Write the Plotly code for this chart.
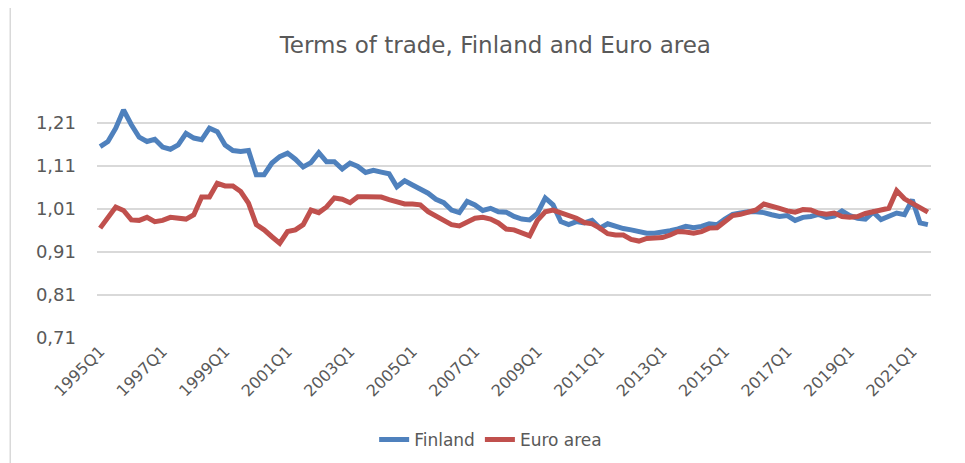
import plotly.graph_objects as go

quarters = [f"{y}Q{q}" for y in range(1995, 2022) for q in range(1, 5)][:107]

finland = [
    1.154, 1.166, 1.197, 1.239, 1.205, 1.176, 1.166, 1.171, 1.153, 1.148,
    1.158, 1.185, 1.174, 1.170, 1.197, 1.189, 1.158, 1.145, 1.143, 1.145,
    1.089, 1.089, 1.116, 1.131, 1.139, 1.125, 1.107, 1.117, 1.140, 1.119,
    1.119, 1.102, 1.116, 1.108, 1.094, 1.099, 1.095, 1.091, 1.061, 1.075,
    1.065, 1.055, 1.046, 1.032, 1.024, 1.007, 1.001, 1.027, 1.019, 1.006,
    1.011, 1.003, 1.002, 0.992, 0.986, 0.984, 0.999, 1.035, 1.019, 0.980,
    0.973, 0.980, 0.977, 0.983, 0.965, 0.975, 0.969, 0.964, 0.961, 0.957,
    0.953, 0.953, 0.955, 0.959, 0.963, 0.969, 0.966, 0.969, 0.975, 0.973,
    0.986, 0.997, 1.000, 1.003, 1.003, 1.001, 0.996, 0.992, 0.994, 0.983,
    0.990, 0.992, 0.997, 0.990, 0.993, 1.005, 0.994, 0.988, 0.986, 1.002,
    0.985, 0.992, 1.000, 0.996, 1.031, 0.977, 0.973,
]

euro_area = [
    0.965, 0.988, 1.014, 1.006, 0.984, 0.983, 0.990, 0.980, 0.983, 0.990,
    0.987, 0.986, 0.996, 1.037, 1.037, 1.069, 1.063, 1.063, 1.050, 1.023,
    0.973, 0.961, 0.945, 0.930, 0.957, 0.961, 0.973, 1.007, 1.001, 1.014,
    1.035, 1.032, 1.024, 1.038, 1.038, 1.037, 1.037, 1.031, 1.025, 1.021,
    1.021, 1.019, 1.003, 0.993, 0.983, 0.973, 0.970, 0.978, 0.988, 0.990,
    0.986, 0.977, 0.963, 0.961, 0.953, 0.947, 0.983, 1.003, 1.007, 1.001,
    0.996, 0.988, 0.978, 0.975, 0.965, 0.952, 0.949, 0.949, 0.939, 0.935,
    0.941, 0.943, 0.943, 0.949, 0.957, 0.956, 0.953, 0.957, 0.965, 0.966,
    0.980, 0.994, 0.997, 1.002, 1.007, 1.021, 1.017, 1.011, 1.005, 1.002,
    1.008, 1.007, 1.000, 0.997, 1.000, 0.992, 0.990, 0.992, 0.999, 1.004,
    1.007, 1.011, 1.052, 1.033, 1.023, 1.013, 1.002,
]

y_ticks = [0.71, 0.81, 0.91, 1.01, 1.11, 1.21]
y_labels = ["0,71", "0,81", "0,91", "1,01", "1,11", "1,21"]
x_labels = [f"{y}Q1" for y in range(1995, 2022, 2)]

grey = "#595959"
font = "DejaVu Sans"

fig = go.Figure()
fig.add_trace(go.Scatter(x=quarters, y=finland, name="Finland", mode="lines",
                         line=dict(color="#4F81BD", width=5)))
fig.add_trace(go.Scatter(x=quarters, y=euro_area, name="Euro area", mode="lines",
                         line=dict(color="#C0504D", width=5)))

# page body has an 8px margin, so everything is laid out 8px up/left
fig.update_layout(
    width=965, height=463,
    margin=dict(l=89, r=42, t=93, b=133, autoexpand=False),
    paper_bgcolor="white", plot_bgcolor="white",
    title=dict(text="Terms of trade, Finland and Euro area", x=0.505, y=0.920,
               xanchor="center", yanchor="middle",
               font=dict(family=font, size=23, color=grey)),
    font=dict(family=font, color=grey),
    showlegend=True,
    legend=dict(orientation="h", x=0.472, y=-0.43, xanchor="center", yanchor="middle",
                font=dict(size=17, color=grey)),
)
fig.update_xaxes(type="category", range=[-0.4, 106.4], tickvals=x_labels, ticktext=x_labels,
                 tickangle=-45, tickfont=dict(size=16, color=grey),
                 showgrid=False, showline=False, zeroline=False, ticks="")
fig.update_yaxes(range=[0.71, 1.26], tickvals=y_ticks, ticktext=y_labels,
                 tickfont=dict(size=18, color=grey), showgrid=True,
                 gridcolor="#D9D9D9", gridwidth=1.5, zeroline=False, showline=False,
                 ticks="", ticklabelstandoff=20)
fig.add_shape(type="line", xref="paper", yref="paper", x0=-0.104, x1=-0.104,
              y0=1.45, y1=-0.6, line=dict(color="#D9D9D9", width=1.5))

fig.write_html("out.html")
